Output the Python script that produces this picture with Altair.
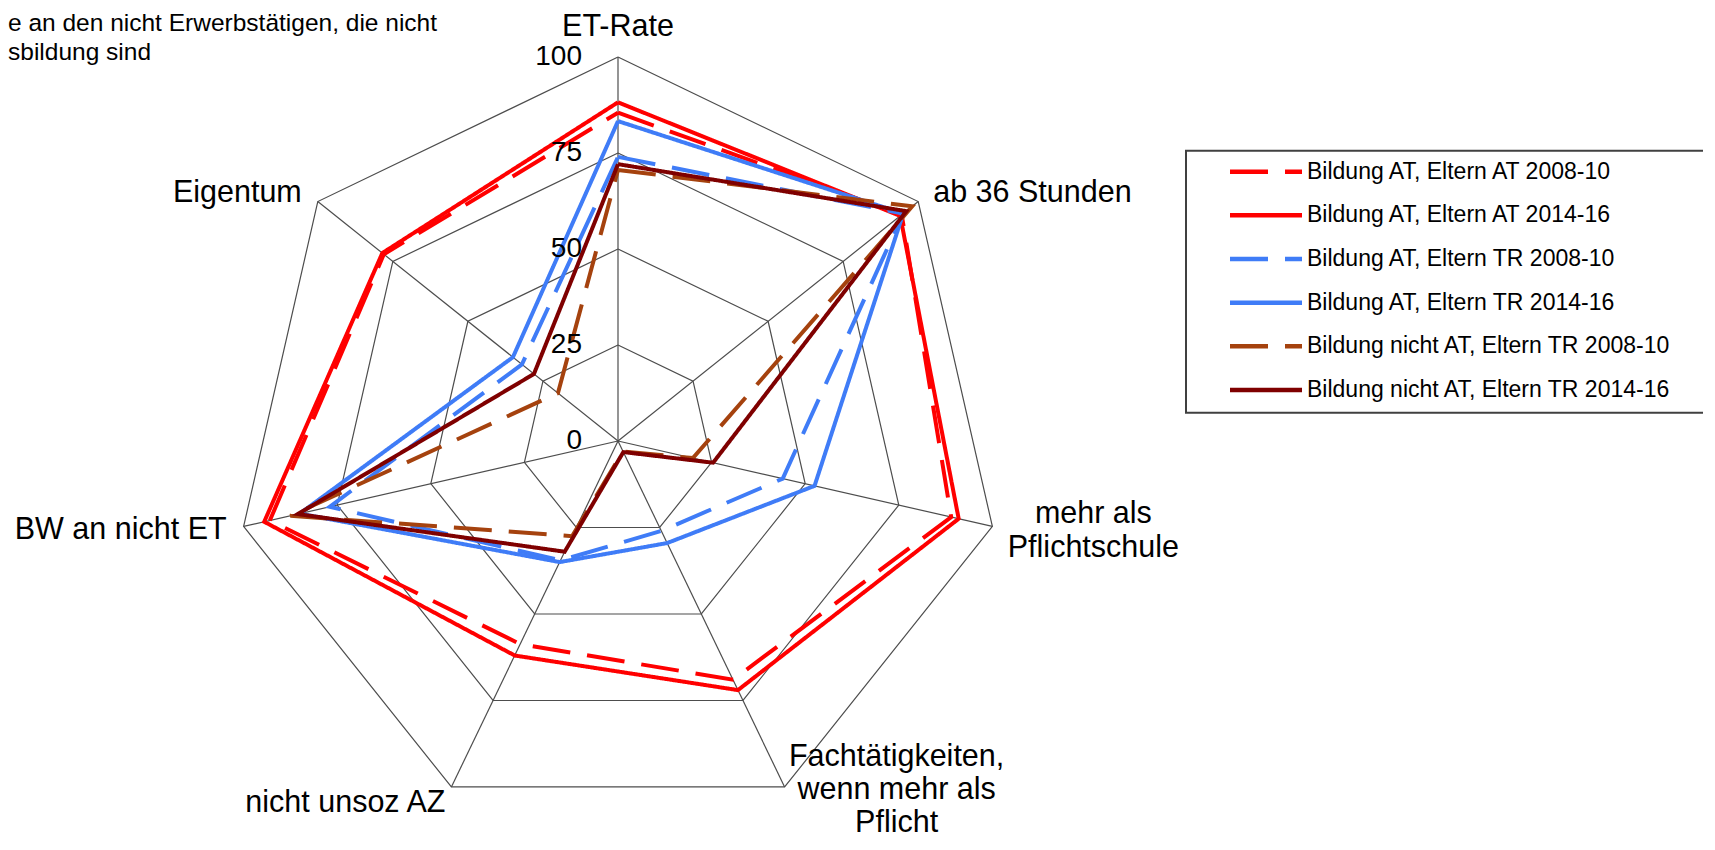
import math
import pandas as pd
import altair as alt

# ---------------- data ----------------
axis_names = ["ET-Rate", "ab 36 Stunden", "mehr als Pflichtschule",
              "Fachtätigkeiten, wenn mehr als Pflicht", "nicht unsoz AZ",
              "BW an nicht ET", "Eigentum"]
axis_lines = [["ET-Rate"], ["ab 36 Stunden"], ["mehr als", "Pflichtschule"],
              ["Fachtätigkeiten,", "wenn mehr als", "Pflicht"], ["nicht unsoz AZ"],
              ["BW an nicht ET"], ["Eigentum"]]

series_names = ["Bildung AT, Eltern AT 2008-10", "Bildung AT, Eltern AT 2014-16",
                "Bildung AT, Eltern TR 2008-10", "Bildung AT, Eltern TR 2014-16",
                "Bildung nicht AT, Eltern TR 2008-10", "Bildung nicht AT, Eltern TR 2014-16"]

at_at_0810 = [85.5, 94.5, 89.0, 69.0, 58.7, 93.0, 78.0]
at_at_1416 = [88.2, 94.0, 91.0, 72.0, 62.0, 94.5, 78.5]
at_tr_0810 = [74.0, 95.0, 44.0, 26.0, 34.5, 77.0, 32.0]
at_tr_1416 = [83.3, 95.0, 52.5, 29.5, 35.0, 85.0, 35.0]
nat_tr_0810 = [70.6, 98.0, 20.0, 3.0, 27.5, 87.5, 20.0]
nat_tr_1416 = [72.1, 96.0, 25.4, 3.2, 32.0, 85.5, 28.0]
series_values = [at_at_0810, at_at_1416, at_tr_0810, at_tr_1416, nat_tr_0810, nat_tr_1416]

tick_values = [0, 25, 50, 75, 100]
ring_levels = [25, 50, 75, 100]

title_lines = ["e an den nicht Erwerbstätigen, die nicht", "sbildung sind"]

# ---------------- styles / layout ----------------
colors = ["#FF0000", "#FF0000", "#3F7CF7", "#3F7CF7", "#A5420E", "#7F0000"]
dashes = [[38, 17], [1, 0], [38, 17], [1, 0], [38, 17], [1, 0]]
FONT = "Liberation Sans"
GRID = "#4D4D4D"

W, H = 1695, 830
CX, CY = 610.0, 433.0      # radar centre, plot pixels
PX = 3.84                  # pixels per percentage point
xs = alt.Scale(domain=[(0 - CX) / PX, (W - CX) / PX], nice=False, zero=False)
ys = alt.Scale(domain=[(CY - H) / PX, CY / PX], nice=False, zero=False)
n = len(axis_names)


def ang(i):
    return 2 * math.pi * i / n


cscale = alt.Scale(domain=series_names, range=colors)
dscale = alt.Scale(domain=series_names, range=dashes)

# series polygons
rows = []
for s, vals in zip(series_names, series_values):
    for k in range(n + 1):
        i = k % n
        rows.append(dict(series=s, order=k,
                         x=vals[i] * math.sin(ang(i)), y=vals[i] * math.cos(ang(i))))
df_lines = pd.DataFrame(rows)

# grid rings
rrows = []
for lv in ring_levels:
    for k in range(n + 1):
        i = k % n
        rrows.append(dict(level=lv, order=k, x=lv * math.sin(ang(i)), y=lv * math.cos(ang(i))))
df_rings = pd.DataFrame(rrows)

df_spokes = pd.DataFrame([dict(x0=0.0, y0=0.0,
                               x1=100 * math.sin(ang(i)), y1=100 * math.cos(ang(i)))
                          for i in range(n)])

df_ticks = pd.DataFrame(dict(x=[0.0] * len(tick_values), y=tick_values,
                             t=[str(v) for v in tick_values]))

X = lambda f: alt.X(f, type="quantitative", scale=xs, axis=None)
Y = lambda f: alt.Y(f, type="quantitative", scale=ys, axis=None)

rings = alt.Chart(df_rings).mark_line(color=GRID, strokeWidth=1.2).encode(
    x=X("x"), y=Y("y"), detail="level:N", order="order:Q")

spokes = alt.Chart(df_spokes).mark_rule(color=GRID, strokeWidth=1.2).encode(
    x=X("x0"), y=Y("y0"), x2="x1", y2="y1")

lines = alt.Chart(df_lines).mark_line(strokeWidth=4, strokeJoin="miter").encode(
    x=X("x"), y=Y("y"),
    color=alt.Color("series:N", scale=cscale, legend=None),
    strokeDash=alt.StrokeDash("series:N", scale=dscale, legend=None),
    detail="series:N", order="order:Q")

ticks = alt.Chart(df_ticks).mark_text(align="right", baseline="middle", dx=-36,
                                      font=FONT, fontSize=28, color="black").encode(
    x=X("x"), y=Y("y"), text="t:N")

# axis labels: (align, baseline, dx, dy, lineHeight)
label_layout = [("center", "alphabetic", 0, -21, 30),
                ("left", "alphabetic", 15, 0, 30),
                ("center", "top", 101, -27, 34),
                ("center", "top", 112, -45, 33),
                ("right", "alphabetic", -6, 25, 30),
                ("right", "alphabetic", -17, 12.5, 30),
                ("right", "alphabetic", -16, 0, 30)]
label_layers = []
for i, (txt, (al, bl, dx, dy, lh)) in enumerate(zip(axis_lines, label_layout)):
    d = pd.DataFrame([dict(x=100 * math.sin(ang(i)), y=100 * math.cos(ang(i)), t=txt)])
    label_layers.append(
        alt.Chart(d).mark_text(align=al, baseline=bl, dx=dx, dy=dy, lineHeight=lh,
                               font=FONT, fontSize=30.5, color="black").encode(
            x=X("x"), y=Y("y"), text="t"))

# title (clipped at the left in the source picture)
title_layers = []
for j, tl in enumerate(title_lines):
    title_layers.append(
        alt.Chart(pd.DataFrame({"t": [tl]})).mark_text(
            align="left", baseline="alphabetic", font=FONT, fontSize=24.5, color="black").encode(
            x=alt.value(0), y=alt.value(23 + j * 29), text="t:N"))

# legend (manual)
LEG_Y0 = 163.7
LEG_DY = 43.66
df_leg = pd.DataFrame(dict(series=series_names,
                           ly=[(CY - (LEG_Y0 + k * LEG_DY)) / PX for k in range(len(series_names))]))
leg_box = alt.Chart(pd.DataFrame({"a": [0]})).mark_rect(
    fill="white", fillOpacity=0, stroke="#404040", strokeWidth=2).encode(
    x=alt.value(1178), x2=alt.value(W + 30), y=alt.value(142.7), y2=alt.value(404.7))
leg_lines = alt.Chart(df_leg).mark_rule(strokeWidth=4.5).encode(
    x=alt.value(1222), x2=alt.value(1294), y=Y("ly"),
    color=alt.Color("series:N", scale=cscale, legend=None),
    strokeDash=alt.StrokeDash("series:N", scale=dscale, legend=None))
leg_text = alt.Chart(df_leg).mark_text(align="left", baseline="middle", font=FONT,
                                       fontSize=23, color="black").encode(
    x=alt.value(1299), y=Y("ly"), text="series:N")

chart = alt.layer(rings, spokes, lines, ticks, *label_layers, *title_layers,
                  leg_box, leg_lines, leg_text).properties(
    width=W, height=H, padding=0, autosize=alt.AutoSizeParams(type="none"),
    background="white"
).configure_view(stroke=None)

chart.save("out.html", embed_options={"renderer": "svg", "actions": False})
